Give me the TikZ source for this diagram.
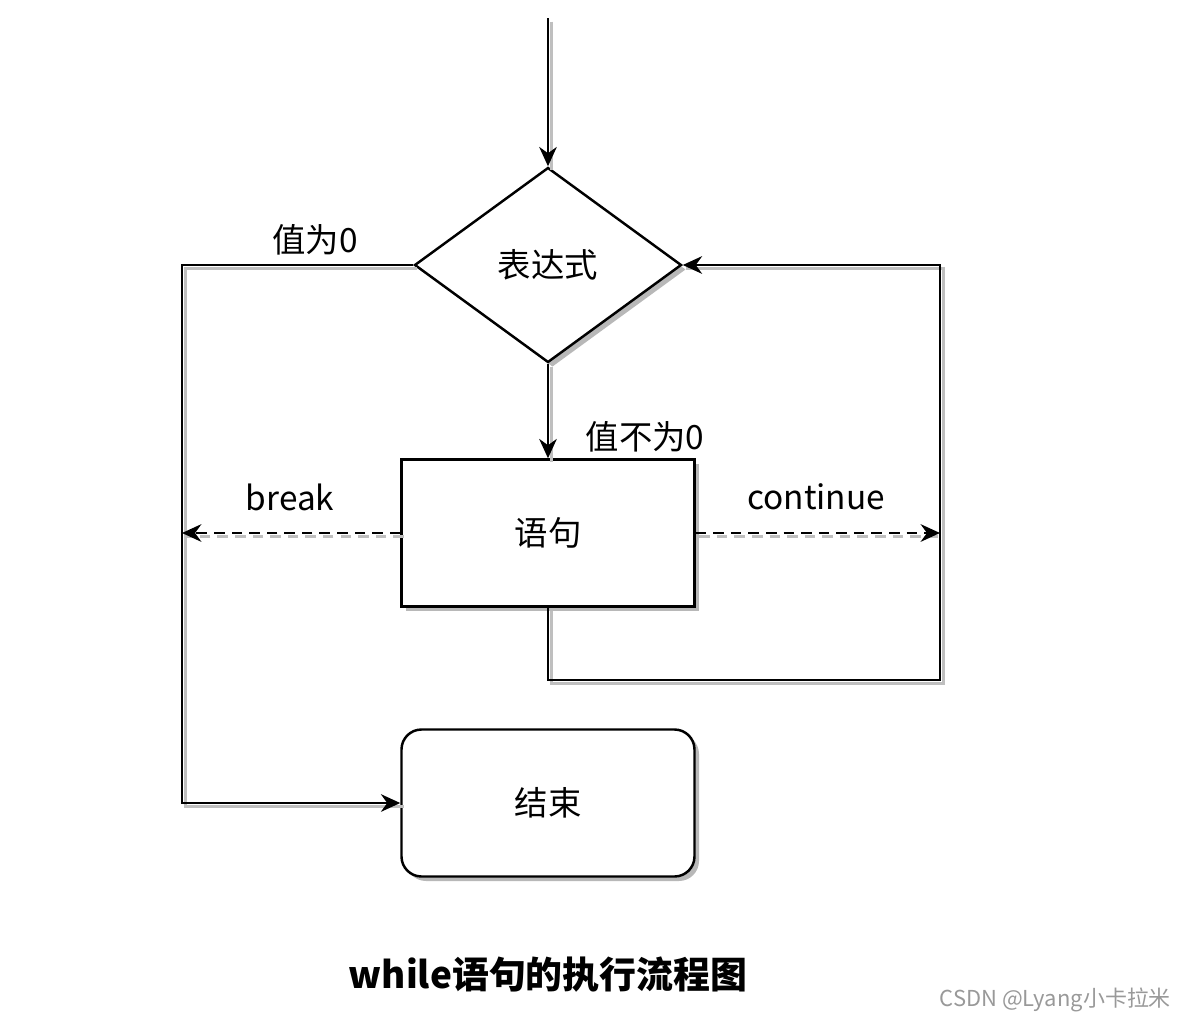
\documentclass[tikz,border=0pt]{standalone}
\usepackage{fontspec}
\setmainfont{Noto Sans CJK SC}
\usetikzlibrary{shapes.geometric,arrows.meta,shadows}

\begin{document}
\begin{tikzpicture}[
    line width=1.4pt,
    font=\fontsize{19}{23}\selectfont,
    flow/.style={-{Stealth[length=11pt,width=10pt]}},
    dflow/.style={flow, dashed, dash pattern=on 6pt off 4pt},
    ghost/.style={draw=black!25, transform canvas={shift={(0.07,-0.07)}}},
    shade/.style={drop shadow={shadow xshift=0.09cm, shadow yshift=-0.09cm, fill=black!28, opacity=1}},
    decision/.style={diamond, draw, fill=white, shade, minimum width=5.34cm, minimum height=3.9cm, aspect=1.37, inner sep=0pt},
    block/.style={rectangle, draw, fill=white, shade, minimum width=5.86cm, minimum height=2.94cm},
    ending/.style={block, rounded corners=0.4cm}
  ]
  \useasboundingbox (0,0) rectangle (23.58,-20.46);

  % Nodes
  \coordinate (top) at (10.96,-0.36);
  \node[decision] (cond) at (10.96,-5.30) {表达式};
  \node[block] (stmt) at (10.96,-10.66) {语句};
  \node[ending] (stop) at (10.96,-16.06) {结束};

  % Corner points of the loops
  \coordinate (lft) at (3.64,-5.30);
  \coordinate (brk) at (3.64,-10.66);
  \coordinate (rgt) at (18.80,-5.30);
  \coordinate (cnt) at (18.80,-10.66);
  \coordinate (lp) at (18.80,-13.60);

  % Shadows of the connectors
  \draw[ghost] (top) -- (cond.north);
  \draw[ghost] (cond.west) -- (lft) |- (stop.west);
  \draw[ghost] (cond.south) -- (stmt.north);
  \draw[ghost, dashed, dash pattern=on 6pt off 4pt] (stmt.west) -- (brk);
  \draw[ghost, dashed, dash pattern=on 6pt off 4pt] (stmt.east) -- (cnt);
  \draw[ghost] (stmt.south) |- (lp) -- (rgt) -- (cond.east);

  % Connectors
  \draw[flow] (top) -- (cond.north);
  \draw[flow] (cond.west) -- (lft) |- (stop.west);
  \draw[flow] (cond.south) -- (stmt.north);
  \draw[dflow] (stmt.west) -- (brk);
  \draw[dflow] (stmt.east) -- (cnt);
  \draw[flow] (stmt.south) |- (lp) -- (rgt) -- (cond.east);

  % Labels
  \node (zero) at (6.30,-4.80) {值为0};
  \node (nonzero) at (12.90,-8.74) {值不为0};
  \node (brklbl) at (5.80,-9.94) {break};
  \node (cntlbl) at (16.32,-9.94) {continue};

  % Caption
  \node[font=\fontsize{21}{25}\selectfont\bfseries] (title) at (10.96,-19.50) {while语句的执行流程图};
  \node[anchor=east, text=black!40, font=\fontsize{12.5}{15}\selectfont] (mark) at (23.56,-20.00) {CSDN @Lyang小卡拉米};
\end{tikzpicture}
\end{document}
